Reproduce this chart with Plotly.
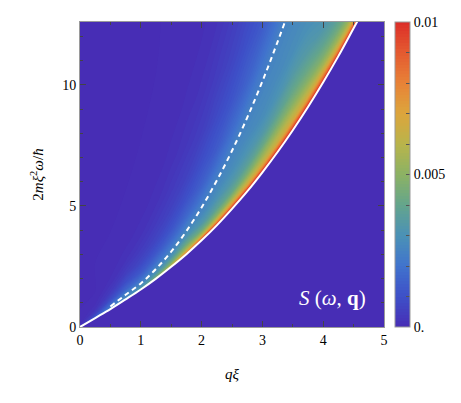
import numpy as np
import plotly.graph_objects as go

# lower edge of the spectrum (solid white line)
q_edge = [0, 0.25, 0.5, 0.75, 1, 1.25, 1.5, 1.75, 2, 2.25, 2.5, 2.75, 3, 3.25,
          3.5, 3.75, 4, 4.25, 4.5, 4.75]
w_edge = [0, 0.37, 0.74, 1.14, 1.55, 2.0, 2.49, 3.01, 3.58, 4.2, 4.88, 5.6, 6.39,
          7.23, 8.13, 9.09, 10.11, 11.19, 12.34, 13.5]

# dashed curve
q_dash = [0.5, 0.75, 1, 1.25, 1.5, 1.75, 2, 2.25, 2.5, 2.75, 3, 3.25, 3.5]
w_dash = [0.85, 1.33, 1.8, 2.4, 3.11, 3.96, 4.94, 6.05, 7.28, 8.65, 10.15, 11.78, 13.5]

# heights above the edge at which S is sampled
d_above = [0, 0.08, 0.2, 0.4, 0.7, 1.1, 1.6, 2.3, 3.2, 4.5, 6.2, 8.5, 13]

# S(omega, q) in units of 1e-3, one list per q column of q_edge (rows = d_above)
s_q000 = [0, 0, 0, 0, 0, 0, 0, 0, 0, 0, 0, 0, 0]
s_q025 = [1.5, 1.05, 0.5, 0.17, 0.04, 0, 0, 0, 0, 0, 0, 0, 0]
s_q050 = [2.2, 2.2, 1.65, 0.9, 0.4, 0.14, 0.05, 0.01, 0, 0, 0, 0, 0]
s_q075 = [3, 2.6, 2.5, 1.6, 0.95, 0.47, 0.2, 0.07, 0.02, 0, 0, 0, 0]
s_q100 = [4, 3.1, 2.65, 2.0, 1.25, 0.75, 0.42, 0.17, 0.065, 0.015, 0, 0, 0]
s_q125 = [5.5, 4.2, 3.3, 2.6, 1.85, 1.15, 0.7, 0.39, 0.16, 0.055, 0.012, 0, 0]
s_q150 = [7, 5.5, 4.3, 3.2, 2.4, 1.7, 1.08, 0.64, 0.36, 0.14, 0.05, 0.01, 0]
s_q175 = [8.5, 7.2, 5.7, 4.3, 3.2, 2.4, 1.65, 1.02, 0.6, 0.3, 0.12, 0.035, 0]
s_q200 = [10, 8.5, 6.1, 4.4, 3.3, 2.7, 2.2, 1.45, 0.95, 0.5, 0.23, 0.09, 0.01]
s_q225 = [10, 8.8, 6.8, 5.0, 3.8, 3.1, 2.65, 2.05, 1.3, 0.82, 0.44, 0.18, 0.04]
s_q250 = [10, 9.2, 7.3, 5.6, 4.1, 3.35, 2.9, 2.55, 1.85, 1.13, 0.68, 0.35, 0.1]
s_q275 = [10, 9.4, 7.5, 6.1, 4.7, 3.7, 3.15, 2.72, 2.4, 1.55, 0.98, 0.55, 0.2]
s_q300 = [10, 9.5, 7.8, 6.3, 5.3, 4.15, 3.35, 2.85, 2.62, 2.05, 1.25, 0.75, 0.3]
s_q325 = [10, 9.6, 8.1, 6.5, 5.7, 4.65, 3.75, 3.1, 2.75, 2.5, 1.7, 1.1, 0.5]
s_q350 = [10, 9.6, 8.3, 6.75, 5.9, 4.9, 4.1, 3.4, 2.9, 2.65, 2.2, 1.7, 1.0]
s_q375 = [10, 9.7, 8.4, 6.85, 5.85, 4.85, 4.1, 3.4, 3.0, 2.7, 2.5, 2.0, 1.2]
s_q400 = [10, 9.7, 8.5, 6.95, 5.6, 4.6, 3.85, 3.2, 2.9, 2.75, 2.6, 2.3, 1.5]
s_q425 = [10, 9.6, 8.3, 6.65, 5.4, 4.4, 3.7, 3.15, 2.9, 2.75, 2.65, 2.5, 1.8]
s_q450 = [10, 9.5, 8.1, 6.35, 5.1, 4.15, 3.55, 3.1, 2.9, 2.75, 2.65, 2.55, 2.0]
s_q475 = [10, 9.4, 7.9, 6.15, 4.9, 4.0, 3.45, 3.05, 2.85, 2.75, 2.65, 2.55, 2.1]

Q_MAX, W_MAX = 5, 12.6
DARK = "rgb(71,45,181)"
FONT = "Liberation Serif, Times New Roman, serif"

rainbow = [
    [0.0, DARK], [0.1, "rgb(62,80,200)"], [0.2, "rgb(64,115,205)"],
    [0.3, "rgb(75,145,182)"], [0.4, "rgb(100,165,140)"], [0.5, "rgb(140,178,100)"],
    [0.6, "rgb(185,180,75)"], [0.7, "rgb(220,165,60)"], [0.8, "rgb(232,130,55)"],
    [0.9, "rgb(228,90,48)"], [1.0, "rgb(220,45,40)"],
]

columns = [s_q000, s_q025, s_q050, s_q075, s_q100, s_q125, s_q150, s_q175, s_q200,
           s_q225, s_q250, s_q275, s_q300, s_q325, s_q350, s_q375, s_q400, s_q425,
           s_q450, s_q475]
z = np.array(columns).T * 1e-3

# curvilinear grid that follows the lower edge
grid_x = np.tile(np.array(q_edge, dtype=float), (len(d_above), 1))
grid_y = np.array(w_edge)[None, :] + np.array(d_above)[:, None]

hidden = dict(showgrid=False, showline=False, showticklabels="none",
              startline=False, endline=False, minorgridcount=0,
              gridcolor="rgba(0,0,0,0)", linecolor="rgba(0,0,0,0)")

fig = go.Figure()
fig.add_trace(go.Carpet(
    carpet="edge", a=q_edge, b=d_above, x=grid_x, y=grid_y,
    aaxis=hidden, baxis=hidden,
))
fig.add_trace(go.Contourcarpet(
    carpet="edge", a=q_edge, b=d_above, z=z,
    autocontour=False, zauto=False, zmin=0, zmax=0.01,
    contours=dict(start=0, end=0.01, size=0.0001, coloring="fill", showlines=False),
    line=dict(width=0), colorscale=rainbow,
    colorbar=dict(x=1.033, xanchor="left", xpad=0, y=0.5, yanchor="middle",
                  ypad=0, len=1, thickness=15, outlinecolor="#9a9a9a",
                  outlinewidth=1, ticks="inside", ticklen=4, tickcolor="#555",
                  tickmode="linear", tick0=0, dtick=0.001, ticklabelstep=5,
                  labelalias={"0": "0."},
                  tickfont=dict(family=FONT, size=14, color="black")),
))
fig.add_trace(go.Scatter(
    x=q_dash, y=w_dash, mode="lines",
    line=dict(color="white", width=2, dash="5px,4px", shape="spline"),
    hoverinfo="skip", showlegend=False,
))
fig.add_trace(go.Scatter(
    x=q_edge, y=w_edge, mode="lines", line=dict(color="white", width=2, shape="spline"),
    hoverinfo="skip", showlegend=False,
))

axis_style = dict(showline=True, linecolor="#9a9a9a", linewidth=1, mirror="allticks",
                  ticks="inside", ticklen=6, tickcolor="#444", showgrid=False,
                  zeroline=False, tickfont=dict(family=FONT, size=14, color="black"))
fig.update_xaxes(range=[0, Q_MAX], dtick=1,
                 minor=dict(ticks="inside", ticklen=3, dtick=0.5, tickcolor="#444"),
                 title=dict(text="<i>qξ</i>", font=dict(family=FONT, size=15, color="black"),
                            standoff=21),
                 **axis_style)
fig.update_yaxes(range=[0, W_MAX], dtick=5,
                 minor=dict(ticks="inside", ticklen=3, dtick=1, tickcolor="#444"),
                 title=dict(text="2<i>mξ</i><sup>2</sup><i>ω</i>/<i>ħ</i>",
                            font=dict(family=FONT, size=15, color="black"), standoff=14),
                 **axis_style)

fig.add_annotation(x=4.16, y=1.2, xref="x", yref="y", showarrow=False,
                   text="<i>S</i> (<i>ω</i>, <b>q</b>)",
                   font=dict(family=FONT, size=21, color="white"))

# the page adds an 8 px body margin, so the figure is 8 px smaller each way
fig.update_layout(width=453, height=395, margin=dict(l=72, r=76, t=14, b=76),
                  paper_bgcolor="white", plot_bgcolor=DARK, showlegend=False)

fig.write_html("out.html")
